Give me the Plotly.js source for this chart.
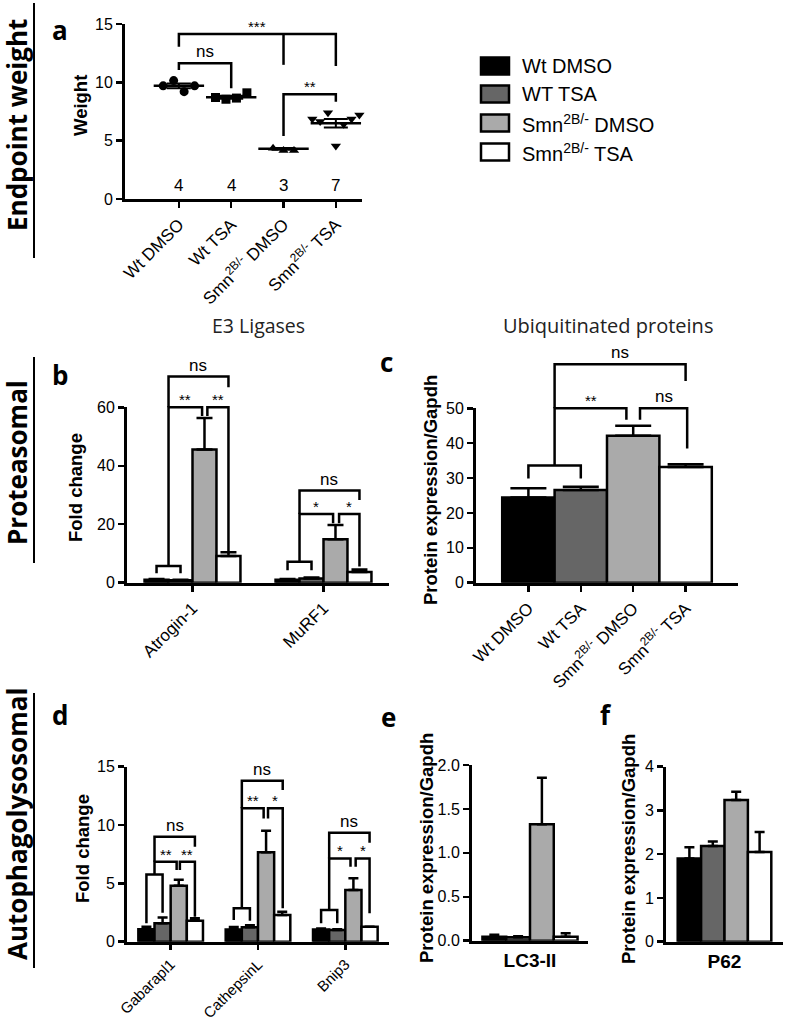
<!DOCTYPE html>
<html><head><meta charset="utf-8">
<script src="https://cdn.plot.ly/plotly-3.0.1.min.js"></script>
<style>body{margin:0;background:#fff}#chart{width:787px;height:1024px}</style>
</head><body><div id="chart"></div>
<script>
// ---------------- DATA ----------------
const legendNames = ['Wt DMSO', 'WT TSA', 'Smn<sup>2B/-</sup> DMSO', 'Smn<sup>2B/-</sup> TSA'];
const groupTicks = ['Wt DMSO', 'Wt TSA', 'Smn<sup>2B/-</sup> DMSO', 'Smn<sup>2B/-</sup> TSA'];
const groupColors = ['#000000', '#666666', '#aaaaaa', '#ffffff'];

// (a) endpoint weight, individual animals
const weightWtDMSO = [9.7, 10.15, 9.2, 9.7];
const weightWtTSA = [8.7, 8.55, 8.65, 9.1];
const weightSmnDMSO = [4.35, 4.15, 4.15];
const weightSmnTSA = [6.85, 6.65, 7.4, 4.55, 6.4, 6.85, 7.2];
const weightMean = [9.7, 8.72, 4.3, 6.49];
const weightSEM = [0.2, 0.12, 0.07, 0.36];

// (b) E3 ligases, fold change
const e3Genes = ['Atrogin-1', 'MuRF1'];
const e3WtDMSO = [1.0, 1.0],   e3WtDMSOsem = [0.25, 0.3];
const e3WtTSA = [0.8, 1.4],    e3WtTSAsem = [0.2, 0.4];
const e3SmnDMSO = [45.6, 14.9], e3SmnDMSOsem = [10.7, 4.85];
const e3SmnTSA = [9.1, 3.7],   e3SmnTSAsem = [1.3, 0.8];

// (c) ubiquitinated proteins
const ubiq = [24.4, 26.6, 42.1, 33.2];
const ubiqSEM = [2.7, 0.9, 2.9, 0.75];

// (d) autophagolysosomal genes, fold change
const autoGenes = ['Gabarapl1', 'CathepsinL', 'Bnip3'];
const autoWtDMSO = [1.06, 1.05, 1.05],  autoWtDMSOsem = [0.23, 0.2, 0.08];
const autoWtTSA = [1.58, 1.23, 1.0],    autoWtTSAsem = [0.5, 0.17, 0.06];
const autoSmnDMSO = [4.8, 7.66, 4.43],  autoSmnDMSOsem = [0.5, 1.85, 1.0];
const autoSmnTSA = [1.8, 2.29, 1.29],   autoSmnTSAsem = [0.2, 0.28, 0.0];

// (e) LC3-II, (f) P62
const lc3 = [0.045, 0.04, 1.325, 0.045];
const lc3SEM = [0.022, 0.012, 0.53, 0.04];
const p62 = [1.9, 2.19, 3.24, 2.05];
const p62SEM = [0.26, 0.1, 0.19, 0.46];

// ---------------- LAYOUT HELPERS ----------------
const W = 787, H = 1024;
const SANS = 'Liberation Sans, Arial, sans-serif';
const MYR = 'Open Sans, Noto Sans, sans-serif';
const px = v => v / W, py = v => 1 - v / H;
const traces = [];
const layout = {
  width: W, height: H, margin: {l: 0, r: 0, t: 0, b: 0},
  paper_bgcolor: '#fff', plot_bgcolor: 'rgba(0,0,0,0)',
  showlegend: false, barmode: 'overlay', shapes: [], annotations: []
};
const axBase = {
  showline: true, linewidth: 3, linecolor: '#000', ticks: 'outside', ticklen: 6,
  tickwidth: 2.5, tickcolor: '#000', showgrid: false, zeroline: false, fixedrange: true,
  tickfont: {family: SANS, size: 16, color: '#000'}
};
const panels = {};
function addPanel(n, xPx, yPx, xRange, yRange, yTicks, xVals, xText, xOpts, yOpts) {
  const s = n === 1 ? '' : String(n);
  layout['xaxis' + s] = Object.assign({}, axBase, {
    domain: [px(xPx[0]), px(xPx[1])], range: xRange, anchor: 'y' + s,
    tickmode: 'array', tickvals: xVals, ticktext: xText, tickangle: -45,
    tickfont: {family: SANS, size: 17, color: '#000'}
  }, xOpts || {});
  layout['yaxis' + s] = Object.assign({}, axBase, {
    domain: [py(yPx[1]), py(yPx[0])], range: yRange, anchor: 'x' + s,
    tickmode: 'array', tickvals: yTicks
  }, yOpts || {});
  panels[n] = {xs: 'x' + s, ys: 'y' + s, ymax: yRange[1]};
}
function bracket(n, xl, xr, top, lb, rb) {
  const p = panels[n], d = v => v / p.ymax;
  layout.shapes.push({type: 'path', xref: p.xs, yref: p.ys + ' domain',
    path: `M${xl},${d(lb)} L${xl},${d(top)} L${xr},${d(top)} L${xr},${d(rb)}`,
    line: {color: '#000', width: 2.5}});
}
function vline(n, x, y0, y1) {
  const p = panels[n], d = v => v / p.ymax;
  layout.shapes.push({type: 'line', xref: p.xs, yref: p.ys + ' domain',
    x0: x, x1: x, y0: d(y0), y1: d(y1), line: {color: '#000', width: 2.5}});
}
function sig(n, x, top, text) {
  const p = panels[n], star = text.indexOf('*') >= 0;
  layout.annotations.push({xref: p.xs, yref: p.ys + ' domain', x: x, y: top / p.ymax,
    text: text, showarrow: false, xanchor: 'center', yanchor: 'bottom', yshift: star ? -3 : 0,
    font: {family: SANS, size: star ? 15 : 17, color: '#000'}});
}
function note(xp, yp, text, size, opts) {
  layout.annotations.push(Object.assign({xref: 'paper', yref: 'paper', x: px(xp), y: py(yp),
    xanchor: 'center', yanchor: 'middle',
    text: text, showarrow: false, font: {family: SANS, size: size, color: '#000'}}, opts || {}));
}

// ---------------- PANEL A ----------------
addPanel(1, [125, 362], [24, 199], [-1.03, 3.5], [0, 15], [0, 5, 10, 15], [0, 1, 2, 3], groupTicks);
const weightSets = [weightWtDMSO, weightWtTSA, weightSmnDMSO, weightSmnTSA];
const weightSymbols = ['circle', 'square', 'triangle-up', 'triangle-down'];
weightSets.forEach((vals, g) => {
  const n = vals.length, step = n > 4 ? 0.15 : 0.2;
  traces.push({type: 'scatter', mode: 'markers', xaxis: 'x', yaxis: 'y', name: legendNames[g],
    x: vals.map((v, i) => g + (i - (n - 1) / 2) * step), y: vals,
    marker: {symbol: weightSymbols[g], size: 9, color: '#000'}, cliponaxis: false});
});
traces.push({type: 'scatter', mode: 'markers', xaxis: 'x', yaxis: 'y', name: 'mean ± SEM',
  x: [0, 1, 2, 3], y: weightMean,
  marker: {symbol: 'line-ew', size: 36, color: '#000', line: {width: 2.5, color: '#000'}},
  error_y: {type: 'data', array: weightSEM, width: 12, thickness: 2, color: '#000'}});
weightSets.forEach((vals, g) => {
  layout.annotations.push({xref: 'x', yref: 'y', x: g, y: 0.15, xanchor: 'center', yanchor: 'bottom', showarrow: false,
    text: String(vals.length), font: {family: SANS, size: 17, color: '#000'}});
});
bracket(1, 0, 1, 11.63, 11.06, 9.5);            sig(1, 0.5, 11.63, 'ns');
bracket(1, 0, 3, 14.14, 13.05, 11.4); vline(1, 2, 14.14, 11.5); sig(1, 1.5, 14.14, '***');
bracket(1, 2, 3, 8.97, 5.4, 8.34);              sig(1, 2.5, 8.97, '**');

// ---------------- PANEL B ----------------
const bwB = 0.183;
addPanel(2, [127, 389], [407.3, 582.7], [-0.5, 1.5], [0, 60], [0, 20, 40, 60], [0, 1], e3Genes);
[[e3WtDMSO, e3WtDMSOsem], [e3WtTSA, e3WtTSAsem], [e3SmnDMSO, e3SmnDMSOsem], [e3SmnTSA, e3SmnTSAsem]].forEach((s, g) => {
  traces.push({type: 'bar', xaxis: 'x2', yaxis: 'y2', name: legendNames[g], x: [0, 1], y: s[0],
    offset: (g - 2) * bwB, width: bwB,
    marker: {color: groupColors[g], line: {color: '#000', width: 2.5}},
    error_y: {type: 'data', symmetric: false, array: s[1], arrayminus: s[1].map(() => 0), width: 8, thickness: 2.5, color: '#000'}});
});
const xB = (cat, idx) => cat + (idx - 1.5) * bwB;
// Atrogin-1
bracket(2, xB(0, 0), xB(0, 1), 5.7, 3.2, 3.2);
bracket(2, xB(0, 0.5), xB(0, 1.9), 60, 5.7, 57);   sig(2, xB(0, 1.2), 60, '**');
bracket(2, xB(0, 2.12), xB(0, 3), 60, 57, 10);    sig(2, xB(0, 2.56), 60, '**');
bracket(2, xB(0, 0.5), xB(0, 3), 70.5, 60, 66.9); sig(2, xB(0, 1.75), 70.5, 'ns');
// MuRF1
bracket(2, xB(1, 0), xB(1, 1), 7.2, 4.3, 4.3);
bracket(2, xB(1, 0.5), xB(1, 1.9), 23.5, 7.2, 20.3); sig(2, xB(1, 1.2), 23.5, '*');
bracket(2, xB(1, 2.15), xB(1, 3), 23.5, 20.3, 5.5); sig(2, xB(1, 2.58), 23.5, '*');
bracket(2, xB(1, 0.5), xB(1, 3), 31.5, 23.5, 28.3); sig(2, xB(1, 1.75), 31.5, 'ns');

// ---------------- PANEL C ----------------
addPanel(3, [476, 738], [408.3, 582.7], [-1, 4], [0, 50], [0, 10, 20, 30, 40, 50], [0, 1, 2, 3], groupTicks);
traces.push({type: 'bar', xaxis: 'x3', yaxis: 'y3', name: 'Ubiquitinated proteins', x: [0, 1, 2, 3], y: ubiq, width: 1,
  marker: {color: groupColors, line: {color: '#000', width: 2.5}},
  error_y: {type: 'data', symmetric: false, array: ubiqSEM, arrayminus: ubiqSEM.map(() => 0), width: 18, thickness: 2.5, color: '#000'}});
bracket(3, 0, 1, 33.6, 29.9, 29.9);
bracket(3, 0.5, 1.87, 50, 33.6, 46.7);  sig(3, 1.19, 50, '**');
bracket(3, 2.13, 3.03, 50, 46.7, 38.5); sig(3, 2.58, 50, 'ns');
bracket(3, 0.5, 3, 62.6, 50, 57.8);     sig(3, 1.75, 62.6, 'ns');

// ---------------- PANEL D ----------------
const bwD = 0.185;
addPanel(4, [127, 389], [766.7, 941.7], [-0.5, 2.5], [0, 15], [0, 5, 10, 15], [0, 1, 2], autoGenes,
  {tickfont: {family: SANS, size: 15, color: '#000'}, ticklen: 5});
[[autoWtDMSO, autoWtDMSOsem], [autoWtTSA, autoWtTSAsem], [autoSmnDMSO, autoSmnDMSOsem], [autoSmnTSA, autoSmnTSAsem]].forEach((s, g) => {
  traces.push({type: 'bar', xaxis: 'x4', yaxis: 'y4', name: legendNames[g], x: [0, 1, 2], y: s[0],
    offset: (g - 2) * bwD, width: bwD,
    marker: {color: groupColors[g], line: {color: '#000', width: 2.5}},
    error_y: {type: 'data', symmetric: false, array: s[1], arrayminus: s[1].map(() => 0), width: 5, thickness: 2.5, color: '#000'}});
});
const xD = (cat, idx) => cat + (idx - 1.5) * bwD;
// Gabarapl1
bracket(4, xD(0, 0), xD(0, 1), 5.77, 1.58, 2.49);
bracket(4, xD(0, 0.5), xD(0, 1.87), 6.86, 5.77, 6.14); sig(4, xD(0, 1.18), 6.86, '**');
bracket(4, xD(0, 2.07), xD(0, 3), 6.86, 6.14, 2.14);   sig(4, xD(0, 2.54), 6.86, '**');
bracket(4, xD(0, 0.5), xD(0, 3), 9.0, 6.86, 8.14);     sig(4, xD(0, 1.75), 9.0, 'ns');
// CathepsinL
bracket(4, xD(1, 0), xD(1, 1), 2.86, 1.86, 1.8);
bracket(4, xD(1, 0.5), xD(1, 1.85), 11.43, 2.86, 10.57); sig(4, xD(1, 1.18), 11.43, '**');
bracket(4, xD(1, 2.12), xD(1, 3.03), 11.43, 10.57, 2.86); sig(4, xD(1, 2.58), 11.43, '*');
bracket(4, xD(1, 0.5), xD(1, 3.03), 13.8, 11.43, 13.0);   sig(4, xD(1, 1.77), 13.8, 'ns');
// Bnip3
bracket(4, xD(2, 0), xD(2, 1), 2.72, 1.58, 1.58);
bracket(4, xD(2, 0.5), xD(2, 1.82), 7.14, 2.72, 6.43); sig(4, xD(2, 1.16), 7.14, '*');
bracket(4, xD(2, 2.14), xD(2, 3), 7.14, 6.43, 2.43);   sig(4, xD(2, 2.57), 7.14, '*');
bracket(4, xD(2, 0.5), xD(2, 3), 9.34, 7.14, 8.48);    sig(4, xD(2, 1.75), 9.34, 'ns');

// ---------------- PANEL E ----------------
const bwE = 0.205;
addPanel(5, [472, 588], [765, 940.7], [-0.5, 0.5], [0, 2], [0, 0.5, 1, 1.5, 2], [0], ['<b>LC3-II</b>'],
  {tickangle: 0, ticks: '', tickfont: {family: SANS, size: 19, color: '#000'}}, {tickformat: '.1f'});
lc3.forEach((v, g) => {
  traces.push({type: 'bar', xaxis: 'x5', yaxis: 'y5', name: legendNames[g], x: [0], y: [v],
    offset: (g - 2) * bwE, width: bwE,
    marker: {color: groupColors[g], line: {color: '#000', width: 2.5}},
    error_y: {type: 'data', symmetric: false, array: [lc3SEM[g]], arrayminus: [0], width: 5, thickness: 2.5, color: '#000'}});
});

// ---------------- PANEL F ----------------
const bwF = 0.2;
addPanel(6, [666, 783], [766.7, 941.7], [-0.5, 0.5], [0, 4], [0, 1, 2, 3, 4], [0], ['<b>P62</b>'],
  {tickangle: 0, ticks: '', tickfont: {family: SANS, size: 19, color: '#000'}});
p62.forEach((v, g) => {
  traces.push({type: 'bar', xaxis: 'x6', yaxis: 'y6', name: legendNames[g], x: [0], y: [v],
    offset: (g - 2) * bwF, width: bwF,
    marker: {color: groupColors[g], line: {color: '#000', width: 2.5}},
    error_y: {type: 'data', symmetric: false, array: [p62SEM[g]], arrayminus: [0], width: 5, thickness: 2.5, color: '#000'}});
});

// ---------------- AXIS TITLES ----------------
const axTitle = (x, y, t) => note(x, y, '<b>' + t + '</b>', 18.5, {textangle: -90});
axTitle(80, 106, 'Weight');
axTitle(75, 488, 'Fold change');
axTitle(430, 490, 'Protein expression/Gapdh');
axTitle(82, 849, 'Fold change');
axTitle(426, 848, 'Protein expression/Gapdh');
axTitle(628, 849, 'Protein expression/Gapdh');

// ---------------- PANEL TITLES, LETTERS, SECTION LABELS ----------------
note(258, 325, 'E3 Ligases', 19.5, {font: {family: MYR, size: 19.5, color: '#222'}});
note(608, 325, 'Ubiquitinated proteins', 20, {font: {family: MYR, size: 20, color: '#222'}});
[['a', 60, 30], ['b', 60, 375], ['c', 386, 362], ['d', 60, 715], ['e', 388, 717], ['f', 606, 715]].forEach(l =>
  note(l[1], l[2], '<b>' + l[0] + '</b>', 26, {font: {family: MYR, size: 26, color: '#000'}}));
[['Endpoint weight', 125, 3, 258], ['Proteasomal', 463, 357, 563], ['Autophagolysosomal', 824, 693, 968]].forEach(s => {
  note(17, s[1], '<b>' + s[0] + '</b>', 26, {textangle: -90, font: {family: MYR, size: 26, color: '#000'}});
  layout.shapes.push({type: 'line', xref: 'paper', yref: 'paper', x0: px(34), x1: px(34), y0: py(s[2]), y1: py(s[3]),
    line: {color: '#000', width: 2}});
});

// ---------------- LEGEND ----------------
[66, 94, 123, 152].forEach((cy, g) => {
  layout.shapes.push({type: 'rect', xref: 'paper', yref: 'paper', x0: px(481), x1: px(509), y0: py(cy + 8.5), y1: py(cy - 8.5),
    fillcolor: groupColors[g], line: {color: '#000', width: 2.5}});
  note(520, cy, legendNames[g], 20, {xanchor: 'left', yanchor: 'middle'});
});

Plotly.newPlot('chart', traces, layout, {staticPlot: true, displayModeBar: false});
</script>
</body></html>
